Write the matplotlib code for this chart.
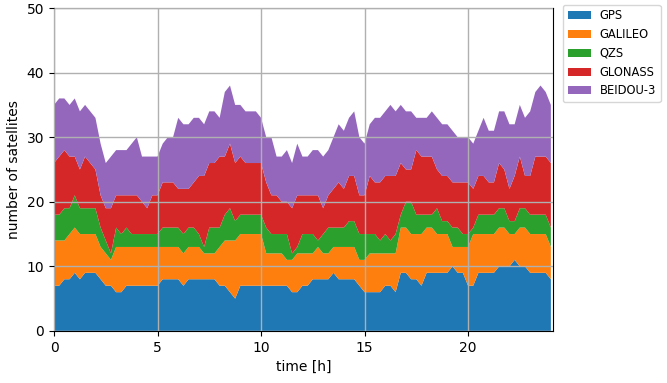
import matplotlib
matplotlib.use("Agg")
import matplotlib.pyplot as plt
import numpy as np

# satellites in view per constellation, sampled every 15 min over 24 h
hours = np.arange(97) * 0.25

gps = [7, 7, 8, 8, 9, 8, 9, 9, 9, 8, 7, 7, 6, 6, 7, 7, 7, 7, 7, 7,
       7, 8, 8, 8, 8, 7, 8, 8, 8, 8, 8, 8, 7, 7, 6, 5, 7, 7, 7, 7,
       7, 7, 7, 7, 7, 7, 6, 6, 7, 7, 8, 8, 8, 8, 9, 8, 8, 8, 8, 7,
       6, 6, 6, 6, 7, 7, 6, 9, 9, 8, 8, 7, 9, 9, 9, 9, 9, 10, 9, 9,
       7, 7, 9, 9, 9, 9, 10, 10, 10, 11, 10, 10, 9, 9, 9, 9, 8]
galileo = [7, 7, 6, 7, 7, 7, 6, 6, 6, 5, 5, 4, 7, 7, 6, 6, 6, 6, 6, 6,
           6, 5, 5, 5, 5, 5, 5, 5, 5, 4, 4, 4, 6, 7, 8, 9, 8, 8, 8, 8,
           8, 5, 5, 5, 5, 4, 5, 6, 5, 5, 4, 5, 4, 4, 4, 5, 5, 5, 5, 4,
           5, 6, 6, 6, 5, 5, 6, 7, 7, 7, 7, 8, 7, 7, 6, 6, 6, 3, 4, 4,
           6, 8, 6, 6, 6, 6, 6, 6, 5, 4, 6, 6, 6, 6, 6, 6, 5]
qzs = [4, 4, 5, 4, 5, 4, 4, 4, 4, 3, 2, 1, 3, 2, 3, 2, 2, 2, 2, 2,
       2, 3, 3, 3, 3, 3, 3, 3, 2, 1, 4, 4, 3, 4, 5, 3, 3, 3, 3, 3,
       3, 4, 3, 3, 3, 4, 1, 1, 3, 3, 3, 1, 3, 4, 3, 3, 3, 4, 4, 4,
       4, 3, 3, 2, 3, 2, 3, 2, 4, 5, 3, 3, 2, 2, 4, 2, 2, 3, 3, 2,
       2, 1, 3, 3, 3, 3, 3, 3, 2, 2, 3, 3, 3, 3, 3, 3, 3]
glonass = [8, 9, 9, 8, 6, 6, 8, 7, 6, 5, 5, 7, 5, 6, 5, 6, 6, 5, 4, 6,
           6, 7, 7, 7, 6, 7, 6, 7, 9, 11, 10, 10, 11, 9, 10, 9, 9, 8, 8, 8,
           8, 7, 6, 6, 5, 5, 7, 8, 6, 6, 6, 7, 4, 5, 6, 7, 6, 7, 7, 6,
           6, 9, 8, 9, 9, 10, 9, 8, 5, 5, 10, 9, 9, 9, 6, 7, 7, 7, 7, 8,
           8, 6, 6, 6, 5, 5, 7, 6, 5, 7, 8, 5, 6, 9, 9, 9, 10]
beidou = [9, 9, 8, 8, 9, 9, 8, 8, 8, 8, 7, 8, 7, 7, 7, 8, 9, 7, 8, 6,
          6, 6, 7, 7, 11, 10, 10, 10, 9, 8, 8, 8, 6, 10, 9, 9, 8, 8, 8, 8,
          7, 7, 9, 6, 7, 8, 7, 8, 6, 6, 7, 7, 8, 7, 8, 9, 9, 9, 10, 9,
          8, 8, 10, 10, 10, 11, 10, 9, 9, 9, 5, 6, 6, 7, 8, 8, 8, 8, 7, 7,
          7, 7, 7, 9, 8, 8, 8, 9, 10, 8, 8, 9, 10, 10, 11, 10, 9]

labels = ["GPS", "GALILEO", "QZS", "GLONASS", "BEIDOU-3"]

fig = plt.figure(figsize=(6.67, 3.83), dpi=100)
ax = fig.add_axes([0.081, 0.136, 0.748, 0.843])
ax.set_axisbelow(False)
ax.stackplot(hours, gps, galileo, qzs, glonass, beidou, labels=labels,
             colors=[plt.cm.tab10(i) for i in range(5)])
ax.grid(True, color="#b0b0b0", linewidth=1)
ax.set_xlim(0, 24.1)
ax.set_ylim(0, 50)
ax.set_xticks([0, 5, 10, 15, 20])
ax.set_xlabel("time [h]")
ax.set_ylabel("number of satellites")
ax.legend(loc="upper left", bbox_to_anchor=(1.02, 1.01), borderaxespad=0,
          fontsize=8.3)
fig.savefig("out.png", dpi=100)
